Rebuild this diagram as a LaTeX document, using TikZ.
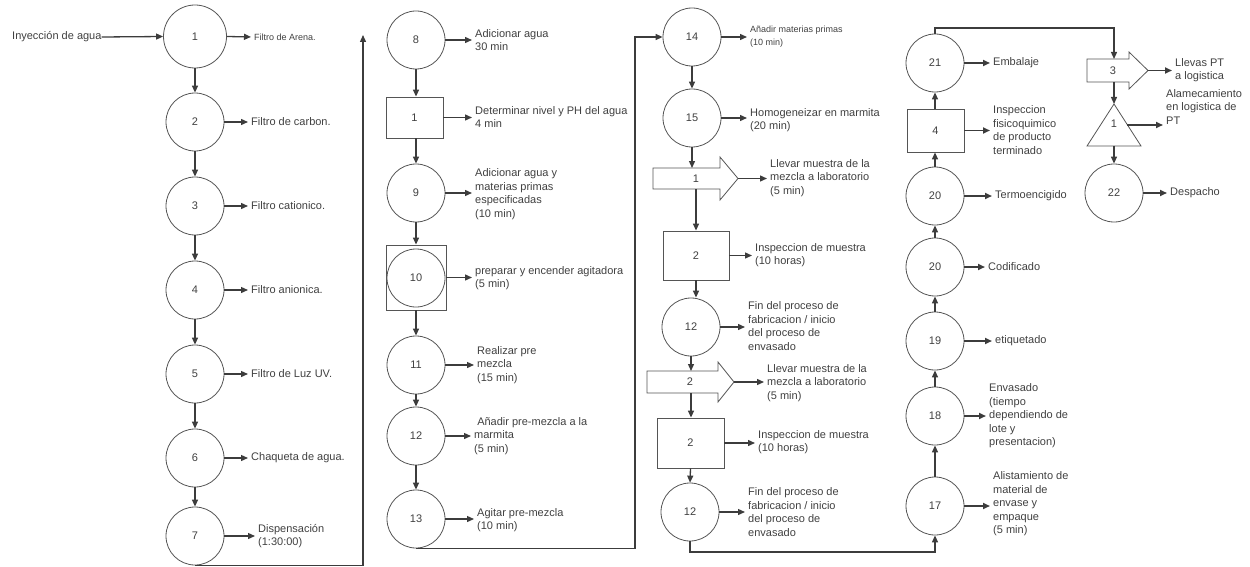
\documentclass[tikz,border=0pt]{standalone}
\usepackage{fontspec}
\setmainfont{Liberation Sans}
\usetikzlibrary{arrows.meta}
\definecolor{ink}{HTML}{3C3C3C}
\definecolor{edge}{HTML}{555555}
\definecolor{txt}{HTML}{404040}
\begin{document}
\begin{tikzpicture}[x=1pt,y=-1pt,
  font=\fontsize{11}{13.5}\selectfont,
  every node/.style={text=txt},
  circ/.style={circle,draw=edge,line width=0.8pt,minimum size=58pt,inner sep=0pt},
  boxn/.style={rectangle,draw=edge,line width=0.8pt,inner sep=0pt},
  shapeline/.style={draw=edge,line width=0.8pt,line join=miter},
  lbl/.style={anchor=west,align=left,inner sep=0pt},
  small/.style={font=\fontsize{9}{13}\selectfont},
  flow/.style={draw=ink,line width=1.3pt,-{Triangle[length=7pt,width=6pt]}},
  tolbl/.style={flow,shorten >=3pt},
  tolblb/.style={tolbl,line width=1.8pt},
]
\useasboundingbox (0,0) rectangle (1250,567);

% ---------- water treatment column ----------
\node[circ,minimum size=63pt] (c1) at (195,36.5) {1};
\node[circ] (c2) at (195,122) {2};
\node[circ] (c3) at (195,206) {3};
\node[circ] (c4) at (195,290) {4};
\node[circ] (c5) at (195,374) {5};
\node[circ] (c6) at (195,458) {6};
\node[circ] (c7) at (195,536) {7};

\node[lbl] (inj) at (12,37) {Inyección de agua};
\draw[flow] (inj.east) -- (c1.west);

\node[lbl,small] (l1) at (254,37) {Filtro de Arena.};
\node[lbl] (l2) at (251,122) {Filtro de carbon.};
\node[lbl] (l3) at (251,206) {Filtro cationico.};
\node[lbl] (l4) at (251,290) {Filtro anionica.};
\node[lbl] (l5) at (251,374) {Filtro de Luz UV.};
\node[lbl] (l6) at (251,458) {Chaqueta de agua.};
\node[lbl] (l7) at (258,536) {Dispensación\\(1:30:00)};

\foreach \i in {1,...,7} { \draw[tolbl] (c\i.east) -- (l\i.west); }
\foreach \i/\j in {1/2,2/3,3/4,4/5,5/6,6/7} { \draw[flow] (c\i.south) -- (c\j.north); }

\coordinate (ret1) at (363,35);
\draw[flow] (c7.south) -| (ret1);

% ---------- preparation column ----------
\node[circ] (c8) at (416,40) {8};
\node[boxn,minimum width=57pt,minimum height=41pt] (b1) at (414.5,117.5) {1};
\node[circ] (c9) at (416,193) {9};
\node[boxn,minimum width=60pt,minimum height=65pt] (bx10) at (416,277.5) {};
\node[circ] (c10) at (416,278) {10};
\node[circ] (c11) at (416,365) {11};
\node[circ] (c12) at (416,436) {12};
\node[circ] (c13) at (416,519) {13};

\draw[flow] (c8.south) -- (b1.north -| c8);
\draw[flow] (b1.south -| c8) -- (c9.north);
\draw[flow] (c9.south) -- (bx10.north);
\draw[flow] (bx10.south) -- (c11.north);
\draw[flow] (c11.south) -- (c12.north);
\draw[flow] (c12.south) -- (c13.north);

\node[lbl] (l8) at (475,40) {Adicionar agua\\30 min};
\node[lbl] (lb1) at (475,117) {Determinar nivel y PH del agua\\4 min};
\node[lbl] (l9) at (475,194) {Adicionar agua y\\materias primas\\especificadas\\(10 min)};
\node[lbl] (l10) at (475,278) {preparar y encender agitadora\\(5 min)};
\node[lbl] (l11) at (477,365) {Realizar pre\\mezcla\\(15 min)};
\node[lbl] (l12) at (474,436) {\ Añadir pre-mezcla a la\\marmita\\(5 min)};
\node[lbl] (l13) at (477,520) {Agitar pre-mezcla\\(10 min)};

\draw[tolbl] (c8.east) -- (l8.west);
\draw[tolbl] (b1.east) -- (b1.east -| lb1.west);
\draw[tolbl] (c9.east) -- (c9.east -| l9.west);
\draw[tolbl] (bx10.east) -- (bx10.east -| l10.west);
\draw[tolbl] (c11.east) -- (c11.east -| l11.west);
\draw[tolbl] (c12.east) -- (c12.east -| l12.west);
\draw[tolbl] (c13.east) -- (c13.east -| l13.west);

% ---------- manufacturing column ----------
\node[circ] (c14) at (692,37) {14};
\node[circ] (c15) at (692,118) {15};

% block arrow 1
\draw[shapeline] (653,168) -- (720,168) -- (720,157) -- (738,178.5) -- (720,200) -- (720,189) -- (653,189) -- cycle;
\node (ba1) at (696,178.5) {1};
\coordinate (ba1top) at (692,168);
\coordinate (ba1bot) at (696,189);
\coordinate (ba1tip) at (738,178.5);

\node[boxn,minimum width=66pt,minimum height=49pt] (bx2) at (696,255.5) {2};
\node[circ] (c12a) at (691,327) {12};

% block arrow 2
\draw[shapeline] (647,371) -- (718,371) -- (718,362) -- (734,382) -- (718,402) -- (718,393) -- (647,393) -- cycle;
\node (ba2) at (690,382) {2};
\coordinate (ba2top) at (691,371);
\coordinate (ba2bot) at (691,393);
\coordinate (ba2tip) at (734,382);

\node[boxn,minimum width=67pt,minimum height=50pt] (bx2b) at (690.5,443) {2};
\node[circ] (c12b) at (690,512) {12};

\draw[flow] (c14.south) -- (c15.north);
\draw[flow] (c15.south) -- (ba1top);
\draw[flow] (ba1bot) -- (bx2.north);
\draw[flow] (bx2.south) -- (c12a.north -| bx2);
\draw[flow] (c12a.south) -- (ba2top);
\draw[flow] (ba2bot) -- (bx2b.north -| ba2bot);
\draw[flow] (bx2b.south) -- (c12b.north);

\coordinate (j2) at (635,37);
\draw[flow] (c13.south) -| (j2) -- (c14.west);

\node[lbl,small] (l14) at (750,37) {Añadir materias primas\\(10 min)};
\node[lbl] (l15) at (750,120) {Homogeneizar en marmita\\(20 min)};
\node[lbl] (lba1) at (770,178) {Llevar muestra de la\\mezcla a laboratorio\\(5 min)};
\node[lbl] (lbx2) at (755,255) {Inspeccion de muestra\\(10 horas)};
\node[lbl] (l12a) at (748,326) {Fin del proceso de\\fabricacion / inicio\\del proceso de\\envasado};
\node[lbl] (lba2) at (767,383) {Llevar muestra de la\\mezcla a laboratorio\\(5 min)};
\node[lbl] (lbx2b) at (758,442) {Inspeccion de muestra\\(10 horas)};
\node[lbl] (l12b) at (748,512) {Fin del proceso de\\fabricacion / inicio\\del proceso de\\envasado};

\draw[tolbl] (c14.east) -- (c14.east -| l14.west);
\draw[tolbl] (c15.east) -- (c15.east -| l15.west);
\draw[tolbl] (ba1tip) -- (ba1tip -| lba1.west);
\draw[tolbl] (bx2.east) -- (bx2.east -| lbx2.west);
\draw[tolbl] (c12a.east) -- (c12a.east -| l12a.west);
\draw[tolbl] (ba2tip) -- (ba2tip -| lba2.west);
\draw[tolbl] (bx2b.east) -- (bx2b.east -| lbx2b.west);
\draw[tolbl] (c12b.east) -- (c12b.east -| l12b.west);

% ---------- packaging column ----------
\node[circ] (c17) at (935,506) {17};
\node[circ] (c18) at (935,416) {18};
\node[circ] (c19) at (935,341) {19};
\node[circ] (c20b) at (935,267) {20};
\node[circ] (c20a) at (935,196) {20};
\node[boxn,minimum width=57pt,minimum height=43pt] (bx4) at (935.5,130.5) {4};
\node[circ] (c21) at (935,63) {21};

\coordinate (j3) at (935,552);
\draw[flow] (c12b.south) |- (j3) -- (c17.south);
\draw[flow] (c17.north) -- (c18.south);
\draw[flow] (c18.north) -- (c19.south);
\draw[flow] (c19.north) -- (c20b.south);
\draw[flow] (c20b.north) -- (c20a.south);
\draw[flow] (c20a.north) -- (bx4.south -| c20a);
\draw[flow] (bx4.north -| c21) -- (c21.south);

\node[lbl] (l21) at (993,63) {Embalaje};
\node[lbl] (lbx4) at (993,130) {Inspeccion\\fisicoquimico\\de producto\\terminado};
\node[lbl] (l20a) at (995,196) {Termoencigido};
\node[lbl] (l20b) at (988,267) {Codificado};
\node[lbl] (l19) at (995,341) {etiquetado};
\node[lbl] (l18) at (989,416) {Envasado\\(tiempo\\dependiendo de\\lote y\\presentacion)};
\node[lbl] (l17) at (993,504) {Alistamiento de\\material de\\envase y\\empaque\\(5 min)};

\draw[tolblb] (c21.east) -- (c21.east -| l21.west);
\draw[tolblb] (bx4.east) -- (bx4.east -| lbx4.west);
\draw[tolblb] (c20a.east) -- (c20a.east -| l20a.west);
\draw[tolblb] (c20b.east) -- (c20b.east -| l20b.west);
\draw[tolblb] (c19.east) -- (c19.east -| l19.west);
\draw[tolblb] (c18.east) -- (c18.east -| l18.west);
\draw[tolblb] (c17.east) -- (c17.east -| l17.west);

% ---------- logistics column ----------
% block arrow 3
\draw[shapeline] (1087,59) -- (1129,59) -- (1129,52) -- (1148,70.5) -- (1129,89) -- (1129,82) -- (1087,82) -- cycle;
\node (ba3) at (1113,70.5) {3};
\coordinate (ba3top) at (1114,59);
\coordinate (ba3bot) at (1114,82);
\coordinate (ba3tip) at (1148,70.5);

% storage triangle
\draw[shapeline] (1114,104) -- (1141,146) -- (1087,146) -- cycle;
\node (tri) at (1114,124) {1};
\coordinate (tritop) at (1114,104);
\coordinate (tribot) at (1114,146);
\coordinate (triright) at (1127,125);

\node[circ] (c22) at (1114,193) {22};

\coordinate (j4) at (1114,28);
\draw[flow] (c21.north) |- (j4) -- (ba3top);
\draw[flow] (ba3bot) -- (tritop);
\draw[flow] (tribot) -- (c22.north);

\node[lbl] (lba3) at (1175,70) {Llevas PT\\a logistica};
\node[lbl] (ltri) at (1166,107) {Alamecamiento\\en logistica de\\PT};
\node[lbl] (l22) at (1170,193) {Despacho};

\draw[tolblb] (ba3tip) -- (ba3tip -| lba3.west);
\draw[tolblb] (triright) -- (triright -| ltri.west);
\draw[tolblb] (c22.east) -- (c22.east -| l22.west);
\end{tikzpicture}
\end{document}
